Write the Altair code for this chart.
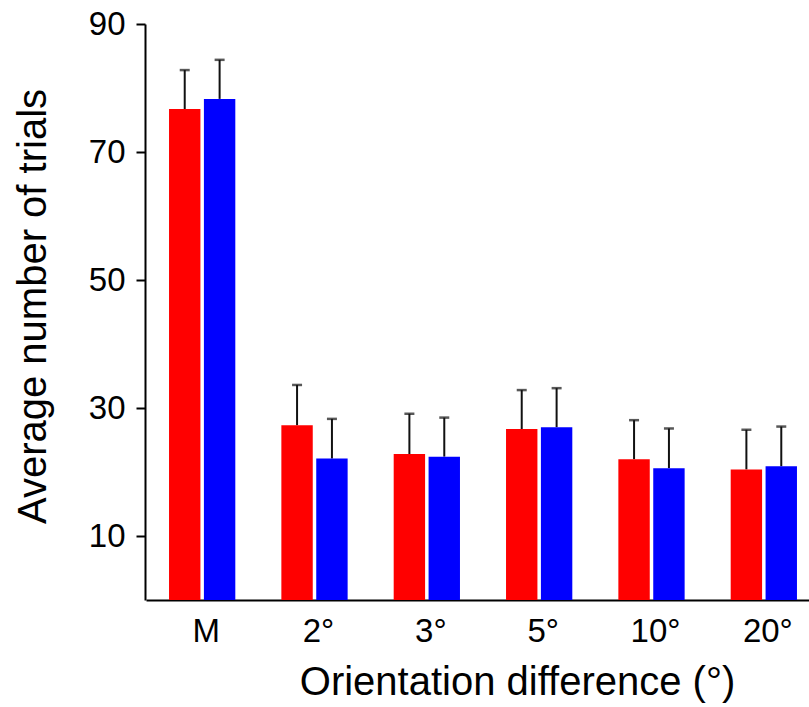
import altair as alt
import pandas as pd

categories = ["M", "2°", "3°", "5°", "10°", "20°"]
series = ["Red", "Blue"]
red_vals = [76.7, 27.3, 22.8, 26.7, 22.0, 20.4]
red_err = [6.1, 6.3, 6.3, 6.1, 6.1, 6.2]
blue_vals = [78.3, 22.1, 22.4, 27.0, 20.6, 20.9]
blue_err = [6.1, 6.2, 6.1, 6.1, 6.2, 6.2]
colors = ["#FF0000", "#0000FF"]
y_ticks = [10, 30, 50, 70, 90]

rows = []
for i, c in enumerate(categories):
    rows.append({"cat": c, "series": series[0], "value": red_vals[i], "top": red_vals[i] + red_err[i]})
    rows.append({"cat": c, "series": series[1], "value": blue_vals[i], "top": blue_vals[i] + blue_err[i]})
df = pd.DataFrame(rows)
cat_df = pd.DataFrame({"cat": categories})

FONT = "Liberation Sans"

x_enc = alt.X(
    "cat:N",
    sort=categories,
    scale=alt.Scale(range=[1, 675], paddingInner=0.41, paddingOuter=0.205),
    axis=alt.Axis(
        title="Orientation difference (°)",
        labels=False,
        ticks=False,
        tickSize=0,
        titleFontSize=40,
        titleFont=FONT,
        titleFontWeight="normal",
        titleColor="#000000",
        titleX=372,
        titleY=94,
        titleAlign="center",
        titleBaseline="alphabetic",
        domainColor="#000000",
        domainWidth=2,
    ),
)
xoff = alt.XOffset("series:N", sort=series, scale=alt.Scale(domain=series, paddingInner=0.1, paddingOuter=0))
y_scale = alt.Scale(domain=[0, 90], nice=False, zero=True)

bars = alt.Chart(df).mark_bar().encode(
    x=x_enc,
    xOffset=xoff,
    y=alt.Y(
        "value:Q",
        scale=y_scale,
        axis=alt.Axis(
            title="Average number of trials",
            values=y_ticks,
            grid=False,
            tickSize=9,
            tickWidth=2,
            tickColor="#000000",
            labelPadding=11,
            labelFontSize=33,
            labelFont=FONT,
            labelColor="#000000",
            titleFontSize=40,
            titleFont=FONT,
            titleFontWeight="normal",
            titleColor="#000000",
            titleAngle=270,
            titleX=-100,
            titleY=282,
            titleAlign="center",
            titleBaseline="alphabetic",
            domainColor="#000000",
            domainWidth=2,
        ),
    ),
    color=alt.Color("series:N", scale=alt.Scale(domain=series, range=colors), legend=None),
)

rules = alt.Chart(df).mark_rule(color="#111111", strokeWidth=2).encode(
    x=alt.X("cat:N", sort=categories),
    xOffset=xoff,
    y=alt.Y("value:Q", scale=y_scale),
    y2="top:Q",
)

caps = alt.Chart(df).mark_tick(color="#111111", size=10, thickness=2.5).encode(
    x=alt.X("cat:N", sort=categories),
    xOffset=xoff,
    y=alt.Y("top:Q", scale=y_scale),
)

xlabels = alt.Chart(cat_df).mark_text(
    font=FONT, fontSize=33, color="#000000", align="center", baseline="alphabetic", dx=4
).encode(
    x=alt.X("cat:N", sort=categories),
    y=alt.value(618),
    text="cat:N",
)

chart = alt.layer(rules, bars, caps, xlabels).properties(
    width=664,
    height=576,
    autosize=alt.AutoSizeParams(type="none"),
    padding={"left": 145, "top": 24, "right": 0, "bottom": 107},
    background="white",
).configure_view(strokeWidth=0, stroke="transparent")

chart.save("out.html", embed_options={"renderer": "svg", "actions": False})
